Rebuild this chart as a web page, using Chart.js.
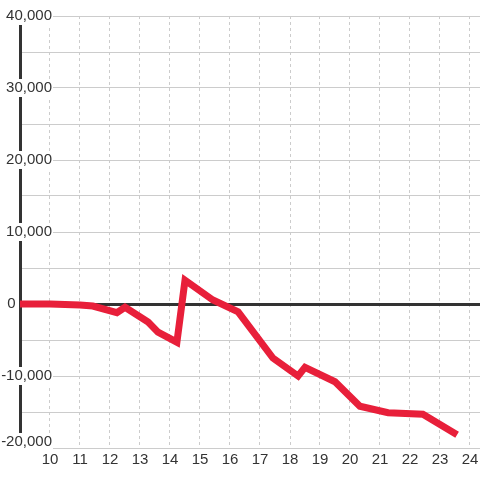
<!DOCTYPE html>
<html><head><meta charset="utf-8">
<script src="https://cdn.jsdelivr.net/npm/chart.js@4"></script>
<style>html,body{margin:0;padding:0;background:#fff}</style>
</head><body>
<canvas id="c" width="480" height="480"></canvas>
<script>
const xValues = [9, 10, 11, 11.43, 12.23, 12.5, 13.27, 13.6, 14.23, 14.5, 15.43, 16.27, 17.43, 18.27, 18.5, 19.5, 20.33, 21.27, 22.43, 23.47];
const yValues = [0, 0, -150, -280, -1200, -450, -2500, -3900, -5300, 3300, 550, -1100, -7500, -10000, -8800, -10800, -14200, -15100, -15300, -17900];
const xTickLabels = [10, 11, 12, 13, 14, 15, 16, 17, 18, 19, 20, 21, 22, 23, 24];
const yTickLabels = [-20000, -10000, 0, 10000, 20000, 30000, 40000];

const points = xValues.map((x, i) => ({x: x, y: yValues[i]}));
const fontFamily = "'Liberation Sans', Arial, sans-serif";
const font = {family: fontFamily, size: 15};

// widest y label, so right-aligned labels end at a fixed x
const mctx = document.createElement('canvas').getContext('2d');
mctx.font = '15px ' + fontFamily;
const fmt = v => v.toLocaleString('en-US');
const widest = Math.max(...yTickLabels.map(v => mctx.measureText(fmt(v)).width));
const yLabelRight = 52;
const axisX = 20;
const yMin = yTickLabels[0], yMax = yTickLabels[yTickLabels.length - 1];
// the bottom label is lifted ~6px above its grid line in the original:
// it is drawn by a label-only axis whose range is shifted by that amount
const liftPx = 6, plotHeightPx = 432;
const lift = liftPx * (yMax - yMin) / plotHeightPx;
// the "0" label sits left of the axis line in the original
const zeroLabel = '0' + ' '.repeat(8) + '\u2009';

function yLabel(v) {
  if (!yTickLabels.includes(v) || v === yMin) return '';
  if (v === 0) return zeroLabel;
  return fmt(v);
}

const labelTicks = {
  mirror: true,
  crossAlign: 'far',
  padding: yLabelRight - axisX - widest,
  color: '#333',
  font: font,
  backdropColor: '#ffffff',
  backdropPadding: {top: 0, bottom: 0, left: 2, right: 1}
};

new Chart(document.getElementById('c'), {
  type: 'line',
  data: {
    datasets: [{
      data: points,
      borderColor: '#e81f3a',
      borderWidth: 7,
      borderCapStyle: 'square',
      borderJoinStyle: 'miter',
      pointRadius: 0,
      tension: 0,
      fill: false
    }]
  },
  options: {
    responsive: false,
    animation: false,
    layout: {padding: {top: 16, left: 0, right: 0, bottom: 0}},
    plugins: {legend: {display: false}, tooltip: {enabled: false}},
    scales: {
      x: {
        type: 'linear',
        min: 9,
        max: 9 + 460 / 30,
        grid: {color: '#cccccc', lineWidth: 1, drawTicks: false, z: -2},
        border: {display: false, dash: [3, 3]},
        ticks: {
          stepSize: 1,
          includeBounds: false,
          autoSkip: false,
          maxRotation: 0,
          padding: 3,
          color: '#333',
          font: font,
          callback: v => xTickLabels.includes(v) ? String(v) : ''
        },
        afterFit: s => { s.height = 32; s.paddingLeft = 0; s.paddingRight = 0; }
      },
      y: {
        type: 'linear',
        position: 'left',
        min: yMin,
        max: yMax,
        grid: {
          color: ctx => (ctx.tick && ctx.tick.value === 0) ? '#333' : '#cccccc',
          lineWidth: ctx => (ctx.tick && ctx.tick.value === 0) ? 3 : 1,
          drawTicks: false
        },
        border: {display: true, color: '#333', width: 3},
        ticks: Object.assign({}, labelTicks, {
          stepSize: 5000,
          showLabelBackdrop: ctx => yLabel(ctx.tick.value) !== '' && ctx.tick.value !== 0,
          callback: v => yLabel(v)
        }),
        afterFit: s => { s.width = axisX; s.paddingTop = 0; s.paddingBottom = 0; }
      },
      yBottomLabel: {
        type: 'linear',
        position: 'left',
        weight: -1,
        min: yMin - lift,
        max: yMax - lift,
        grid: {display: false},
        border: {display: false},
        ticks: Object.assign({}, labelTicks, {
          showLabelBackdrop: true,
          callback: v => fmt(v)
        }),
        afterBuildTicks: s => { s.ticks = [{value: yMin}]; },
        afterFit: s => { s.width = 0; s.paddingTop = 0; s.paddingBottom = 0; }
      }
    }
  }
});
</script>
</body></html>
